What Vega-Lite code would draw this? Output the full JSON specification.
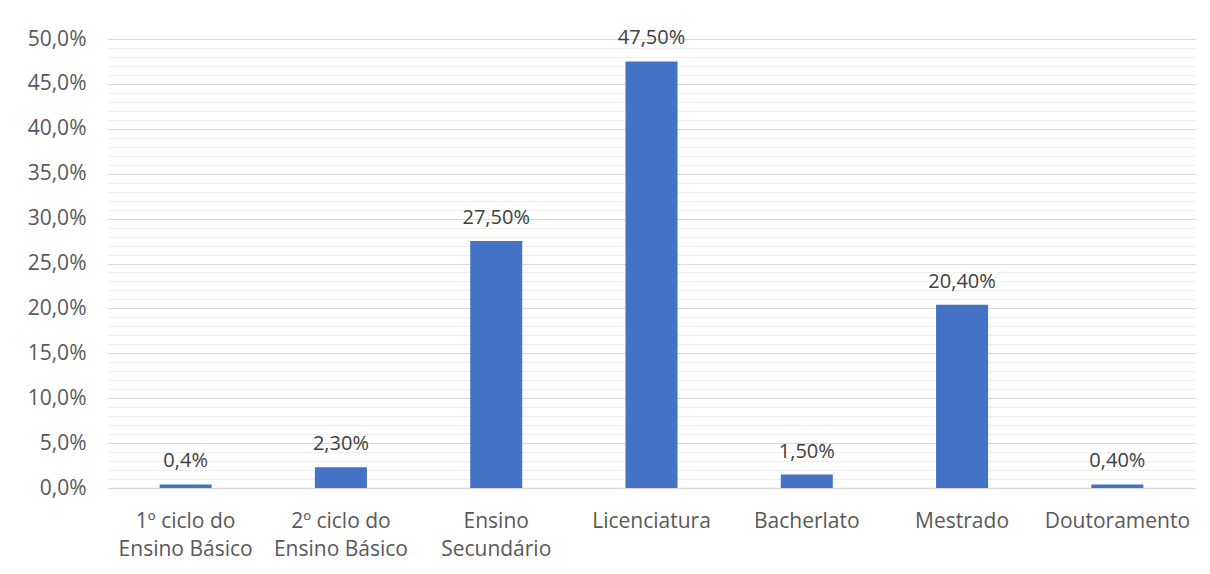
{
  "$schema": "https://vega.github.io/schema/vega-lite/v6.json",
  "autosize": "none",
  "width": 1087,
  "height": 449,
  "padding": {"left": 108, "top": 39, "right": 15, "bottom": 86},
  "background": "white",
  "config": {"view": {"stroke": null}, "font": "Open Sans"},
  "data": {"values": [
    {"nivel": "1º ciclo do\nEnsino Básico", "valor": 0.4, "rotulo": "0,4%"},
    {"nivel": "2º ciclo do\nEnsino Básico", "valor": 2.3, "rotulo": "2,30%"},
    {"nivel": "Ensino\nSecundário", "valor": 27.5, "rotulo": "27,50%"},
    {"nivel": "Licenciatura", "valor": 47.5, "rotulo": "47,50%"},
    {"nivel": "Bacherlato", "valor": 1.5, "rotulo": "1,50%"},
    {"nivel": "Mestrado", "valor": 20.4, "rotulo": "20,40%"},
    {"nivel": "Doutoramento", "valor": 0.4, "rotulo": "0,40%"}
  ]},
  "encoding": {
    "x": {
      "field": "nivel", "type": "nominal", "sort": null,
      "scale": {"paddingInner": 0.665, "paddingOuter": 0.3325},
      "axis": {
        "title": null, "labelAngle": 0, "ticks": false,
        "domainColor": "#d9d9d9", "domainWidth": 1.5,
        "labelExpr": "split(datum.value, '\\n')",
        "labelFontSize": 21, "labelColor": "#595959", "labelPadding": 22,
        "labelLineHeight": 28, "labelBaseline": "top"
      }
    },
    "y": {
      "field": "valor", "type": "quantitative",
      "scale": {"domain": [0, 50], "nice": false},
      "axis": {
        "title": null, "domain": false, "ticks": false,
        "values": [0,1,2,3,4,5,6,7,8,9,10,11,12,13,14,15,16,17,18,19,20,21,22,23,24,25,26,27,28,29,30,31,32,33,34,35,36,37,38,39,40,41,42,43,44,45,46,47,48,49,50],
        "labelExpr": "datum.value % 5 === 0 ? replace(format(datum.value, '.1f'), '.', ',') + '%' : ''",
        "gridColor": {"condition": {"test": "datum.value % 5 === 0", "value": "#d9d9d9"}, "value": "#efefef"},
        "gridWidth": 1.2,
        "labelFontSize": 21, "labelColor": "#595959", "labelPadding": 22
      }
    }
  },
  "layer": [
    {"mark": {"type": "bar", "color": "#4472C4"}},
    {
      "mark": {"type": "text", "dy": -23, "fontSize": 20, "color": "#404040"},
      "encoding": {"text": {"field": "rotulo"}}
    }
  ]
}
